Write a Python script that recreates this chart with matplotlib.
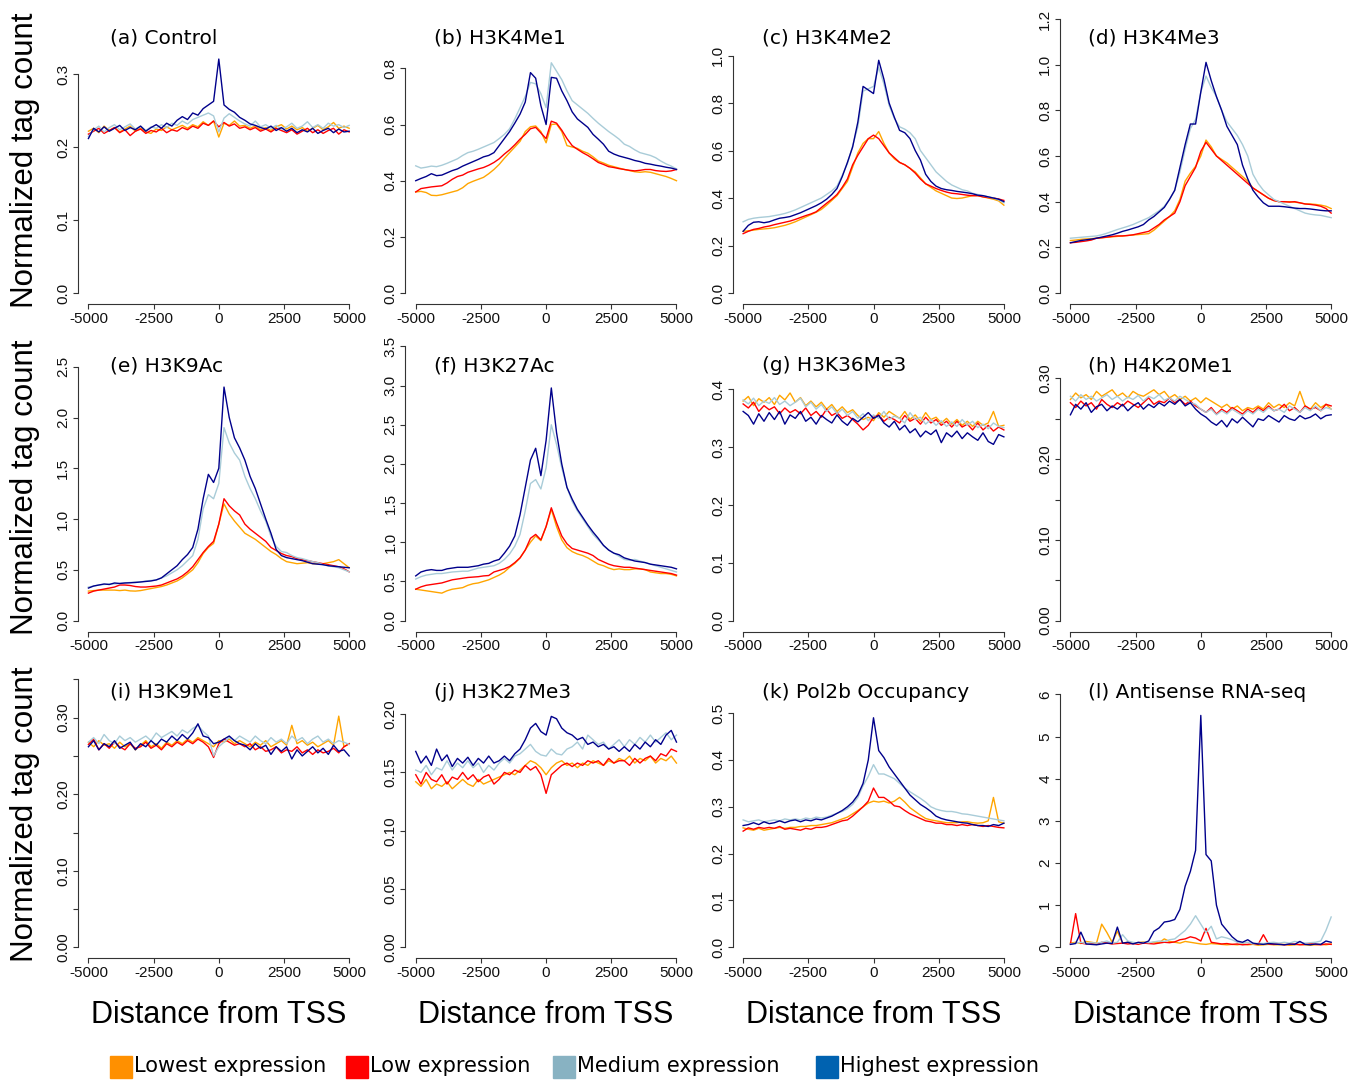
import numpy as np
import matplotlib.pyplot as plt
from matplotlib.patches import Rectangle

plt.rcParams['font.family'] = ['Liberation Sans', 'DejaVu Sans']

# distance from TSS (bp), one bin every 200 bp
dist = np.arange(-5000, 5001, 200)

# ---- (a) Control
a_lowest = [.222, .226, .220, .229, .223, .227, .221, .225, .229, .222,
            .226, .221, .219, .225, .223, .228, .224, .227, .230, .226,
            .231, .228, .235, .230, .236, .214, .233, .230, .236, .229,
            .230, .226, .229, .224, .227, .223, .228, .231, .225, .229,
            .224, .227, .222, .226, .230, .224, .228, .234, .226, .229, .226]
a_low = [.218, .222, .226, .219, .223, .227, .220, .224, .216, .222,
         .225, .219, .223, .221, .226, .220, .224, .222, .227, .224,
         .229, .226, .233, .230, .236, .228, .234, .229, .232, .226,
         .228, .224, .227, .222, .225, .221, .226, .223, .220, .224,
         .218, .222, .226, .220, .224, .219, .223, .226, .218, .224, .221]
a_medium = [.215, .224, .229, .221, .227, .231, .224, .228, .232, .225,
            .229, .223, .228, .226, .231, .227, .233, .230, .236, .232,
            .238, .241, .244, .247, .243, .221, .240, .246, .241, .236,
            .232, .229, .236, .228, .231, .226, .230, .225, .228, .233,
            .226, .229, .235, .227, .231, .226, .233, .229, .231, .227, .230]
a_highest = [.212, .226, .221, .228, .222, .226, .230, .223, .227, .224,
             .229, .222, .227, .231, .226, .233, .229, .237, .242, .238,
             .247, .244, .253, .258, .263, .321, .258, .252, .248, .241,
             .237, .232, .230, .227, .225, .229, .223, .227, .222, .226,
             .220, .224, .221, .226, .219, .223, .226, .220, .225, .221, .222]

# ---- (b) H3K4Me1
b_lowest = [.360, .362, .358, .348, .347, .350, .355, .360, .365, .375,
            .390, .398, .405, .412, .425, .440, .458, .480, .500, .520,
            .540, .575, .592, .595, .575, .535, .600, .602, .575, .525,
            .520, .515, .505, .498, .485, .470, .463, .455, .450, .445,
            .440, .436, .432, .430, .432, .430, .425, .420, .415, .408, .400]
b_low = [.360, .372, .375, .378, .380, .382, .392, .405, .415, .420,
         .430, .436, .442, .447, .455, .465, .478, .495, .510, .528,
         .548, .565, .585, .590, .570, .550, .612, .605, .580, .550,
         .525, .512, .500, .490, .478, .465, .458, .450, .447, .443,
         .440, .437, .435, .437, .440, .440, .436, .434, .433, .435, .440]
b_medium = [.453, .445, .448, .452, .450, .455, .462, .470, .478, .490,
            .500, .505, .512, .520, .528, .536, .550, .565, .585, .620,
            .660, .700, .750, .745, .710, .660, .820, .790, .760, .720,
            .685, .670, .655, .640, .622, .605, .590, .575, .562, .548,
            .530, .522, .510, .500, .495, .490, .482, .470, .460, .452, .442]
b_highest = [.400, .408, .415, .425, .418, .420, .428, .436, .442, .452,
             .460, .468, .476, .485, .490, .500, .525, .550, .575, .605,
             .637, .680, .785, .765, .667, .600, .768, .765, .720, .685,
             .645, .620, .605, .590, .565, .548, .530, .505, .495, .488,
             .483, .478, .472, .468, .462, .459, .455, .452, .448, .445, .440]

# ---- (c) H3K4Me2
c_lowest = [.260, .262, .265, .268, .270, .272, .275, .280, .285, .292,
            .300, .310, .320, .330, .340, .352, .370, .390, .410, .440,
            .470, .530, .590, .630, .650, .650, .680, .630, .590, .565,
            .550, .540, .525, .510, .485, .460, .445, .430, .420, .410,
            .400, .398, .400, .405, .410, .410, .405, .400, .395, .388, .370]
c_low = [.250, .260, .268, .272, .278, .282, .288, .293, .298, .303,
         .310, .318, .326, .333, .342, .360, .378, .395, .415, .445,
         .480, .540, .580, .615, .650, .665, .650, .620, .590, .570,
         .550, .540, .525, .505, .480, .460, .450, .440, .432, .425,
         .420, .418, .415, .412, .410, .410, .405, .402, .400, .396, .390]
c_medium = [.300, .310, .315, .318, .320, .322, .326, .330, .335, .342,
            .350, .360, .370, .380, .390, .400, .415, .430, .450, .495,
            .545, .620, .700, .850, .860, .870, .950, .880, .790, .735,
            .700, .690, .675, .650, .600, .570, .540, .510, .490, .470,
            .455, .445, .435, .430, .420, .415, .410, .405, .400, .392, .380]
c_highest = [.260, .285, .298, .300, .296, .300, .308, .315, .318, .322,
             .330, .338, .348, .358, .368, .380, .395, .415, .440, .490,
             .550, .615, .720, .870, .855, .840, .980, .900, .800, .740,
             .685, .675, .650, .600, .560, .500, .470, .450, .440, .435,
             .432, .428, .425, .422, .418, .412, .410, .405, .400, .395, .385]

# ---- (d) H3K4Me3
d_lowest = [.230, .232, .235, .237, .238, .240, .242, .244, .246, .248,
            .250, .252, .254, .256, .258, .260, .275, .295, .315, .335,
            .360, .410, .490, .525, .555, .600, .670, .640, .600, .585,
            .570, .550, .530, .510, .490, .460, .445, .430, .415, .405,
            .400, .400, .400, .398, .395, .390, .390, .388, .385, .380, .370]
d_low = [.220, .222, .225, .228, .232, .240, .242, .245, .248, .250,
         .250, .252, .255, .260, .265, .270, .285, .300, .320, .335,
         .350, .400, .470, .510, .550, .620, .660, .630, .600, .580,
         .560, .540, .520, .500, .480, .460, .445, .430, .415, .405,
         .400, .400, .398, .400, .395, .390, .388, .385, .380, .370, .350]
d_medium = [.240, .242, .244, .246, .248, .250, .255, .262, .270, .278,
            .285, .292, .300, .310, .320, .330, .345, .360, .380, .410,
            .450, .530, .630, .720, .760, .880, .950, .900, .860, .800,
            .750, .720, .690, .650, .600, .520, .480, .450, .430, .410,
            .400, .390, .380, .370, .360, .350, .345, .342, .340, .335, .330]
d_highest = [.220, .225, .230, .233, .236, .240, .245, .250, .255, .262,
             .270, .276, .283, .290, .300, .320, .335, .355, .375, .410,
             .450, .550, .650, .740, .740, .880, 1.010, .930, .860, .800,
             .730, .690, .650, .560, .500, .450, .420, .395, .380, .380,
             .380, .378, .375, .372, .370, .370, .368, .365, .362, .360, .360]

# ---- (e) H3K9Ac
e_lowest = [.290, .295, .300, .300, .300, .300, .295, .300, .292, .290,
            .295, .305, .315, .325, .335, .350, .370, .390, .420, .460,
            .500, .570, .660, .720, .760, .950, 1.150, 1.050, .980, .920,
            .860, .830, .800, .760, .720, .680, .650, .610, .580, .570,
            .560, .565, .570, .560, .560, .560, .570, .580, .600, .560, .520]
e_low = [.270, .290, .300, .310, .320, .330, .350, .350, .345, .335,
         .330, .330, .335, .340, .350, .370, .390, .410, .440, .480,
         .530, .600, .670, .730, .780, .950, 1.200, 1.130, 1.080, 1.040,
         .950, .900, .860, .820, .780, .720, .690, .660, .640, .630,
         .610, .600, .590, .580, .570, .560, .550, .540, .530, .510, .480]
e_medium = [.330, .340, .350, .355, .360, .360, .365, .370, .375, .380,
            .380, .390, .395, .400, .420, .440, .470, .500, .540, .590,
            .640, .800, 1.100, 1.240, 1.200, 1.350, 1.900, 1.750, 1.650, 1.580,
            1.420, 1.300, 1.200, 1.080, .980, .830, .730, .680, .670, .640,
            .620, .610, .595, .580, .570, .550, .540, .530, .520, .500, .480]
e_highest = [.320, .340, .350, .360, .355, .370, .365, .370, .372, .375,
             .380, .385, .390, .400, .420, .460, .500, .540, .600, .650,
             .720, .900, 1.200, 1.440, 1.360, 1.500, 2.300, 2.000, 1.800, 1.700,
             1.580, 1.420, 1.300, 1.150, 1.000, .860, .700, .640, .620, .610,
             .600, .590, .575, .560, .555, .550, .540, .535, .530, .525, .520]

# ---- (f) H3K27Ac
f_lowest = [.400, .390, .380, .370, .360, .350, .380, .400, .410, .420,
            .450, .470, .480, .500, .520, .550, .580, .620, .680, .730,
            .800, .900, 1.000, 1.080, 1.020, 1.200, 1.420, 1.200, 1.030, .930,
            .880, .850, .830, .800, .760, .720, .700, .670, .650, .660,
            .650, .650, .660, .660, .650, .620, .610, .600, .600, .590, .570]
f_low = [.400, .430, .450, .460, .470, .480, .500, .520, .530, .540,
         .550, .555, .560, .570, .575, .620, .640, .660, .690, .740,
         .800, .900, 1.050, 1.100, 1.030, 1.200, 1.440, 1.250, 1.080, .980,
         .920, .900, .880, .860, .830, .780, .750, .720, .700, .690,
         .680, .680, .670, .660, .650, .640, .630, .620, .610, .600, .580]
f_medium = [.530, .560, .580, .590, .600, .600, .610, .620, .625, .630,
            .630, .650, .670, .680, .690, .700, .730, .780, .850, .950,
            1.100, 1.400, 1.750, 1.800, 1.680, 1.950, 2.500, 2.250, 1.950, 1.700,
            1.520, 1.400, 1.300, 1.200, 1.100, 1.030, .960, .900, .860, .820,
            .780, .770, .780, .760, .740, .720, .700, .680, .660, .640, .620]
f_highest = [.570, .620, .640, .650, .640, .640, .660, .670, .680, .680,
             .680, .690, .700, .720, .730, .760, .780, .860, .950, 1.080,
             1.350, 1.700, 2.050, 2.200, 1.850, 2.300, 2.970, 2.400, 2.000, 1.700,
             1.550, 1.420, 1.320, 1.220, 1.130, 1.050, .960, .900, .860, .840,
             .800, .780, .760, .750, .740, .720, .710, .700, .690, .680, .660]

# ---- (g) H3K36Me3
g_lowest = [.380, .388, .372, .384, .378, .386, .374, .390, .382, .394,
            .378, .386, .372, .380, .370, .378, .366, .374, .362, .370,
            .360, .365, .355, .348, .352, .346, .360, .352, .362, .356,
            .350, .362, .348, .356, .345, .360, .348, .352, .342, .350,
            .340, .348, .338, .345, .336, .345, .338, .342, .362, .336, .338]
g_low = [.375, .368, .378, .362, .372, .365, .370, .358, .368, .360,
         .365, .358, .368, .355, .362, .352, .366, .355, .360, .350,
         .355, .348, .340, .330, .338, .352, .356, .345, .352, .348,
         .342, .355, .345, .350, .340, .352, .342, .348, .338, .345,
         .335, .345, .335, .340, .330, .342, .330, .338, .328, .335, .330]
g_medium = [.382, .375, .385, .372, .380, .376, .386, .374, .380, .372,
            .378, .385, .370, .378, .366, .374, .362, .370, .358, .366,
            .355, .362, .350, .358, .346, .356, .350, .362, .348, .354,
            .350, .342, .360, .348, .352, .340, .348, .338, .346, .336,
            .344, .336, .348, .338, .345, .334, .340, .332, .342, .336, .334]
g_highest = [.362, .355, .340, .358, .345, .360, .348, .362, .340, .356,
             .350, .362, .345, .352, .340, .355, .348, .342, .356, .345,
             .338, .350, .344, .352, .360, .350, .355, .342, .335, .345,
             .330, .338, .325, .332, .318, .328, .322, .330, .308, .325,
             .318, .328, .315, .325, .318, .312, .325, .310, .305, .322, .318]

# ---- (h) H4K20Me1
h_lowest = [.274, .282, .276, .280, .274, .284, .278, .282, .286, .278,
            .282, .276, .284, .280, .278, .282, .286, .280, .284, .276,
            .280, .274, .278, .272, .276, .270, .276, .272, .268, .264,
            .268, .262, .266, .260, .264, .262, .266, .262, .270, .264,
            .268, .264, .270, .266, .284, .266, .262, .270, .264, .268, .262]
h_low = [.270, .264, .272, .266, .270, .262, .274, .268, .264, .270,
         .266, .272, .268, .264, .270, .276, .268, .272, .270, .276,
         .270, .274, .268, .272, .266, .262, .258, .264, .256, .262,
         .258, .264, .260, .256, .262, .258, .264, .260, .266, .260,
         .262, .268, .260, .264, .258, .266, .262, .264, .260, .268, .266]
h_medium = [.278, .272, .280, .274, .278, .272, .276, .280, .274, .278,
            .272, .277, .274, .279, .272, .278, .275, .280, .273, .276,
            .272, .278, .274, .270, .268, .262, .258, .262, .255, .260,
            .256, .262, .258, .254, .260, .256, .262, .258, .264, .260,
            .262, .258, .266, .262, .258, .264, .260, .266, .260, .264, .262]
h_highest = [.255, .268, .262, .270, .258, .265, .268, .260, .266, .262,
             .268, .260, .266, .270, .262, .268, .264, .270, .266, .272,
             .268, .274, .266, .270, .262, .256, .252, .246, .242, .248,
             .240, .250, .245, .252, .246, .240, .250, .248, .254, .250,
             .246, .254, .250, .248, .254, .250, .252, .256, .250, .254, .255]

# ---- (i) H3K9Me1
i_lowest = [.268, .262, .270, .264, .266, .260, .268, .262, .266, .258,
            .264, .270, .262, .266, .260, .268, .264, .270, .266, .272,
            .268, .274, .270, .266, .262, .270, .268, .272, .266, .270,
            .266, .262, .268, .264, .270, .262, .266, .270, .264, .290,
            .266, .270, .264, .268, .262, .266, .270, .264, .302, .262, .266]
i_low = [.265, .272, .258, .266, .260, .268, .262, .258, .266, .260,
         .262, .268, .260, .264, .258, .266, .262, .268, .264, .270,
         .266, .272, .268, .262, .248, .266, .272, .268, .264, .266,
         .262, .266, .258, .262, .256, .258, .262, .254, .258, .256,
         .262, .254, .258, .252, .258, .254, .256, .260, .254, .262, .266]
i_medium = [.268, .274, .266, .278, .270, .266, .276, .270, .274, .268,
            .272, .276, .270, .280, .274, .278, .282, .276, .284, .280,
            .286, .290, .282, .276, .250, .262, .268, .274, .270, .276,
            .272, .268, .276, .270, .266, .274, .268, .272, .266, .276,
            .270, .274, .266, .272, .276, .268, .272, .266, .270, .268, .265]
i_highest = [.262, .270, .258, .266, .262, .270, .260, .264, .268, .258,
             .266, .262, .270, .264, .272, .268, .276, .270, .278, .272,
             .280, .292, .276, .274, .266, .268, .272, .276, .270, .266,
             .264, .258, .266, .260, .264, .252, .262, .256, .262, .246,
             .258, .250, .256, .262, .254, .260, .252, .264, .256, .258, .250]

# ---- (j) H3K27Me3
j_lowest = [.142, .138, .144, .136, .140, .138, .142, .136, .140, .144,
            .140, .138, .144, .140, .142, .144, .146, .148, .150, .148,
            .152, .156, .160, .158, .154, .148, .154, .158, .160, .156,
            .158, .154, .158, .156, .160, .158, .156, .160, .158, .162,
            .160, .164, .158, .162, .160, .164, .158, .162, .160, .164, .158]
j_low = [.148, .140, .150, .144, .142, .148, .140, .146, .144, .150,
         .144, .148, .142, .146, .148, .140, .144, .150, .148, .152,
         .150, .156, .152, .155, .148, .132, .148, .152, .156, .158,
         .155, .158, .156, .160, .158, .160, .156, .162, .158, .160,
         .160, .156, .162, .158, .162, .164, .160, .166, .164, .170, .168]
j_medium = [.152, .150, .156, .148, .154, .152, .160, .152, .158, .154,
            .160, .154, .158, .150, .156, .152, .158, .162, .158, .164,
            .166, .170, .174, .168, .165, .164, .170, .166, .165, .170,
            .172, .176, .170, .182, .178, .174, .176, .170, .174, .178,
            .172, .178, .174, .180, .176, .182, .176, .180, .184, .178, .182]
j_highest = [.168, .158, .164, .156, .170, .160, .165, .155, .162, .158,
             .163, .156, .162, .158, .164, .158, .160, .164, .160, .166,
             .170, .178, .188, .192, .185, .182, .198, .196, .188, .184,
             .182, .178, .180, .174, .176, .172, .174, .170, .172, .168,
             .172, .168, .174, .170, .176, .172, .178, .174, .182, .186, .176]

# ---- (k) Pol2b occupancy
k_lowest = [.255, .252, .250, .254, .250, .252, .254, .256, .254, .256,
            .256, .258, .258, .260, .260, .262, .264, .266, .270, .274,
            .278, .285, .292, .300, .308, .312, .310, .312, .308, .312,
            .320, .310, .298, .290, .282, .275, .272, .270, .268, .266,
            .266, .266, .268, .268, .266, .265, .266, .270, .320, .268, .265]
k_low = [.248, .255, .252, .256, .254, .256, .254, .258, .252, .254,
         .252, .250, .254, .252, .256, .256, .258, .262, .266, .270,
         .272, .280, .290, .300, .312, .340, .320, .320, .312, .302,
         .300, .292, .285, .280, .275, .270, .268, .265, .265, .262,
         .262, .260, .262, .260, .262, .260, .258, .260, .258, .256, .255]
k_medium = [.272, .268, .270, .272, .268, .270, .272, .270, .274, .272,
            .274, .272, .276, .274, .278, .276, .278, .282, .286, .290,
            .296, .305, .320, .345, .365, .390, .370, .370, .365, .360,
            .350, .340, .332, .325, .318, .310, .300, .295, .292, .290,
            .290, .288, .285, .284, .282, .280, .278, .276, .274, .272, .270]
k_highest = [.260, .262, .266, .262, .268, .264, .266, .270, .266, .270,
             .272, .268, .272, .270, .274, .272, .276, .280, .286, .292,
             .300, .310, .325, .350, .400, .490, .420, .405, .385, .370,
             .355, .340, .325, .315, .305, .298, .290, .280, .275, .272,
             .270, .268, .266, .265, .262, .260, .260, .258, .262, .260, .265]

# ---- (l) Antisense RNA-seq
l_lowest = [.10, .12, .09, .14, .12, .10, .55, .35, .12, .38,
            .10, .12, .09, .11, .13, .10, .12, .11, .20, .14,
            .12, .10, .14, .12, .10, .08, .07, .09, .08, .07,
            .06, .07, .06, .08, .06, .07, .05, .06, .07, .06,
            .06, .07, .05, .06, .07, .06, .05, .06, .07, .06, .08]
l_low = [.08, .80, .10, .08, .09, .07, .12, .10, .08, .09,
         .10, .08, .09, .07, .10, .09, .08, .10, .12, .11,
         .13, .18, .20, .25, .22, .15, .45, .12, .10, .08,
         .09, .07, .08, .06, .07, .09, .07, .30, .08, .07,
         .08, .06, .07, .08, .06, .07, .09, .07, .06, .08, .07]
l_medium = [.08, .10, .12, .09, .11, .10, .12, .15, .10, .12,
            .30, .15, .12, .10, .12, .11, .13, .15, .14, .18,
            .20, .30, .40, .55, .75, .55, .35, .50, .20, .25,
            .22, .18, .12, .10, .12, .08, .10, .09, .11, .12,
            .10, .12, .10, .14, .12, .10, .11, .12, .15, .40, .72]
l_highest = [.07, .09, .36, .08, .07, .06, .08, .10, .09, .48,
             .10, .12, .08, .12, .10, .15, .38, .46, .60, .62,
             .66, .90, 1.45, 1.80, 2.30, 5.50, 2.20, 2.05, 1.00, .55,
             .40, .25, .15, .12, .18, .10, .08, .07, .09, .08,
             .07, .06, .08, .07, .14, .07, .06, .08, .07, .15, .12]

titles = ["(a) Control", "(b) H3K4Me1", "(c) H3K4Me2", "(d) H3K4Me3",
          "(e) H3K9Ac", "(f) H3K27Ac", "(g) H3K36Me3", "(h) H4K20Me1",
          "(i) H3K9Me1", "(j) H3K27Me3", "(k) Pol2b Occupancy", "(l) Antisense RNA-seq"]
series = [(a_lowest, a_low, a_medium, a_highest), (b_lowest, b_low, b_medium, b_highest),
          (c_lowest, c_low, c_medium, c_highest), (d_lowest, d_low, d_medium, d_highest),
          (e_lowest, e_low, e_medium, e_highest), (f_lowest, f_low, f_medium, f_highest),
          (g_lowest, g_low, g_medium, g_highest), (h_lowest, h_low, h_medium, h_highest),
          (i_lowest, i_low, i_medium, i_highest), (j_lowest, j_low, j_medium, j_highest),
          (k_lowest, k_low, k_medium, k_highest), (l_lowest, l_low, l_medium, l_highest)]
ymax = [0.376, 0.976, 1.154, 1.2, 2.70, 3.5, 0.4745, 0.3397, 0.358, 0.235, 0.585, 6.5]
yticks = [
    ([0, .1, .2, .3], ["0.0", "0.1", "0.2", "0.3"]),
    ([0, .2, .4, .6, .8], ["0.0", "0.2", "0.4", "0.6", "0.8"]),
    ([0, .2, .4, .6, .8, 1.0], ["0.0", "0.2", "0.4", "0.6", "0.8", "1.0"]),
    ([0, .2, .4, .6, .8, 1.0, 1.2], ["0.0", "0.2", "0.4", "0.6", "0.8", "1.0", "1.2"]),
    ([0, .5, 1, 1.5, 2, 2.5], ["0.0", "0.5", "1.0", "1.5", "2.0", "2.5"]),
    ([0, .5, 1, 1.5, 2, 2.5, 3, 3.5], ["0.0", "0.5", "1.0", "1.5", "2.0", "2.5", "3.0", "3.5"]),
    ([0, .1, .2, .3, .4], ["0.0", "0.1", "0.2", "0.3", "0.4"]),
    ([0, .05, .1, .15, .2, .25, .3], ["0.00", "", "0.10", "", "0.20", "", "0.30"]),
    ([0, .05, .1, .15, .2, .25, .3, .35], ["0.00", "", "0.10", "", "0.20", "", "0.30", ""]),
    ([0, .05, .1, .15, .2], ["0.00", "0.05", "0.10", "0.15", "0.20"]),
    ([0, .1, .2, .3, .4, .5], ["0.0", "0.1", "0.2", "0.3", "0.4", "0.5"]),
    ([0, 1, 2, 3, 4, 5, 6], ["0", "1", "2", "3", "4", "5", "6"]),
]
xticks = [-5000, -2500, 0, 2500, 5000]
groups = ["Lowest expression", "Low expression", "Medium expression", "Highest expression"]
line_colors = ["#FFA500", "#FF0000", "#A9CCD8", "#00008B"]
legend_colors = ["#FF9000", "#FF0000", "#88B2C2", "#0062B0"]

W, H = 1359, 1081
fig = plt.figure(figsize=(W / 100, H / 100), dpi=100)

col_left = [78, 405.3, 732.7, 1060]
row_bottom = [304, 631.5, 958.3]
pw, ph = 281.6, 296
title_dx = [32, 29, 29, 28]

for k in range(12):
    r, c = divmod(k, 4)
    ax = fig.add_axes([col_left[c] / W, 1 - row_bottom[r] / H, pw / W, ph / H])
    for vals, col in zip(series[k], line_colors):
        ax.plot(dist, vals, color=col, lw=1.0)
    ax.set_xlim(-5400, 5400)
    ax.set_ylim(-0.04 * ymax[k], 1.04 * ymax[k])
    ax.set_xticks(xticks)
    ax.set_xticklabels([str(t) for t in xticks], fontsize=11)
    ax.set_yticks(yticks[k][0])
    ax.set_yticklabels(yticks[k][1], fontsize=11, rotation=90, va="center")
    for s in ["top", "right"]:
        ax.spines[s].set_visible(False)
    ax.spines["left"].set_bounds(0, yticks[k][0][-1])
    ax.spines["bottom"].set_bounds(-5000, 5000)
    for s in ["left", "bottom"]:
        ax.spines[s].set_color("#333333")
        ax.spines[s].set_linewidth(0.8)
    ax.tick_params(length=3.6, width=0.8, color="#333333", pad=2, labelcolor="#111111")
    ax.patch.set_visible(False)
    fig.text((col_left[c] + title_dx[c]) / W, 1 - (row_bottom[r] - 266) / H, titles[k],
             fontsize=14.5, family="DejaVu Sans", ha="left", va="center")

for r in range(3):
    yc = row_bottom[r] - ph / 2 + 4
    fig.text(25 / W, 1 - yc / H, "Normalized tag count", rotation=90,
             fontsize=22.5, ha="center", va="center")
for c in range(4):
    fig.text((col_left[c] + pw / 2) / W, 1 - 1015 / H, "Distance from TSS",
             fontsize=22, ha="center", va="center")

leg_x = [110, 346, 553, 816]
for name, col, x0 in zip(groups, legend_colors, leg_x):
    fig.patches.append(Rectangle((x0 / W, 1 - 1078 / H), 22 / W, 22 / H,
                                 transform=fig.transFigure, color=col))
    fig.text((x0 + 24) / W, 1 - 1066 / H, name, fontsize=15, family="DejaVu Sans",
             ha="left", va="center")

fig.savefig("out.png", dpi=100)
